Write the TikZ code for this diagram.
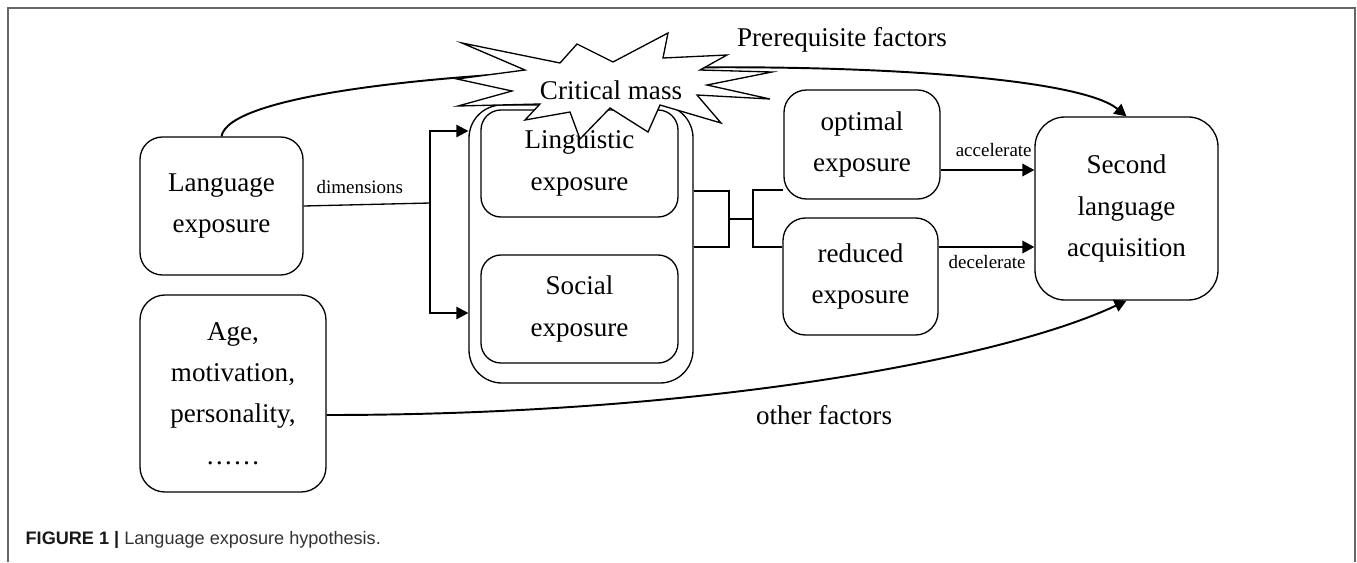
\documentclass[tikz,border=0pt]{standalone}
\usepackage{fontspec}
\setmainfont{Liberation Serif}
\newfontfamily\capfont{Liberation Sans}
\usetikzlibrary{positioning, arrows.meta, calc}

\begin{document}
\begin{tikzpicture}[
        x=0.2mm, y=-0.2mm,
        >={Triangle[length=2.4mm, width=2.5mm]},
        line width=0.75pt,
        box/.style={draw, rounded corners=4.5mm, align=center, inner sep=0pt, font=\fontsize{15.4}{23.5}\selectfont},
        big/.style={font=\fontsize{15.4}{23.5}\selectfont, inner sep=0pt},
        lbl/.style={font=\fontsize{10.8}{13}\selectfont, inner sep=1pt},
        flow/.style={->, line width=1.1pt},
    ]
    \useasboundingbox (0,0) rectangle (1357,562);

        % Frame and caption
        \draw[black!60] (8,562) |- (1355,8) -- (1355,562);
        \node[anchor=west, inner sep=0pt, text=black!80, font=\capfont\fontsize{10.3}{12}\selectfont] (cap) at (25,540)
            {\textbf{\color{black!90}FIGURE 1 |} Language exposure hypothesis.};

        % Draw the boxes on the left
        \node[box, minimum width=32.6mm, minimum height=27.6mm] (lang) at (221.5,206) {Language\\exposure};
        \node[box, rounded corners=5mm, minimum width=37.2mm, minimum height=39.4mm] (age) at (233,393.5)
            {Age,\\motivation,\\personality,\\……};

        % Draw the two dimensions of exposure
        \node[box, rounded corners=6.6mm, minimum width=44.8mm, minimum height=55.6mm] (outer) at (581,244) {};
        \node[box, rounded corners=4mm, minimum width=39.4mm, minimum height=21.4mm] (ling) at (579.5,163.5) {Linguistic\\exposure};
        \node[box, rounded corners=4mm, minimum width=39.4mm, minimum height=21.6mm] (soc) at (579.5,309) {Social\\exposure};

        % Draw the exposure amounts and the outcome
        \node[box, minimum width=31.2mm, minimum height=21.8mm] (opt) at (862,144.5) {optimal\\exposure};
        \node[box, minimum width=31mm, minimum height=23.4mm] (red) at (860.5,276.5) {reduced\\exposure};
        \node[box, rounded corners=6mm, minimum width=36.6mm, minimum height=36.6mm] (sla) at (1126.5,208.5)
            {Second\\language\\acquisition};

        % Split language exposure into its dimensions
        \coordinate (split) at (430,203);
        \draw (lang.east) -- node[lbl, above=1.6mm, xshift=-1.4mm] {dimensions} (split);
        \foreach \y in {131,313}
            \draw[->] (split) |- (outer.west |- 0,\y);

        % Bracket between the dimensions and the amounts
        \coordinate (join) at (729,219);
        \coordinate (fork) at (753,219);
        \draw (outer.east |- 0,191) -| (join) |- (outer.east |- 0,247);
        \draw (join) -- (fork);
        \draw (opt.west |- 0,190) -| (fork) |- (red.west |- 0,247);

        % Connect the amounts with the outcome
        \draw[flow] (opt.east |- 0,170) -- node[lbl, pos=1, anchor=south east, yshift=2.2mm] {accelerate} (sla.west |- 0,170);
        \draw[flow] (red.east |- 0,247) -- node[lbl, pos=1, anchor=north east, yshift=-1.2mm, xshift=-1.2mm] {decelerate} (sla.west |- 0,247);

        % Prerequisite and other factors
        \draw[flow] (lang.north) .. controls (235,55) and (1040,45) .. (sla.north);
        \node[big] (pre) at (842,40) {Prerequisite factors};
        \draw[flow] (age.east |- 0,415) .. controls (700,415) and (1000,360) .. (sla.south);
        \node[big] (other) at (824,415) {other factors};

        % Critical mass burst
        \draw[fill=white] (462,43) -- (560,63) -- (577,44) -- (613,62) -- (668,33) -- (663,58) -- (727,55)
            -- (700,70) -- (772,72) -- (707,85) -- (770,99) -- (697,95) -- (721,123) -- (660,105)
            -- (648,132) -- (610,108) -- (580,139) -- (570,112) -- (525,120) -- (540,104) -- (458,106)
            -- (512,91) -- (457,79) -- (525,70) -- cycle;
        \node[big] (crit) at (611,90) {Critical mass};
\end{tikzpicture}
\end{document}
